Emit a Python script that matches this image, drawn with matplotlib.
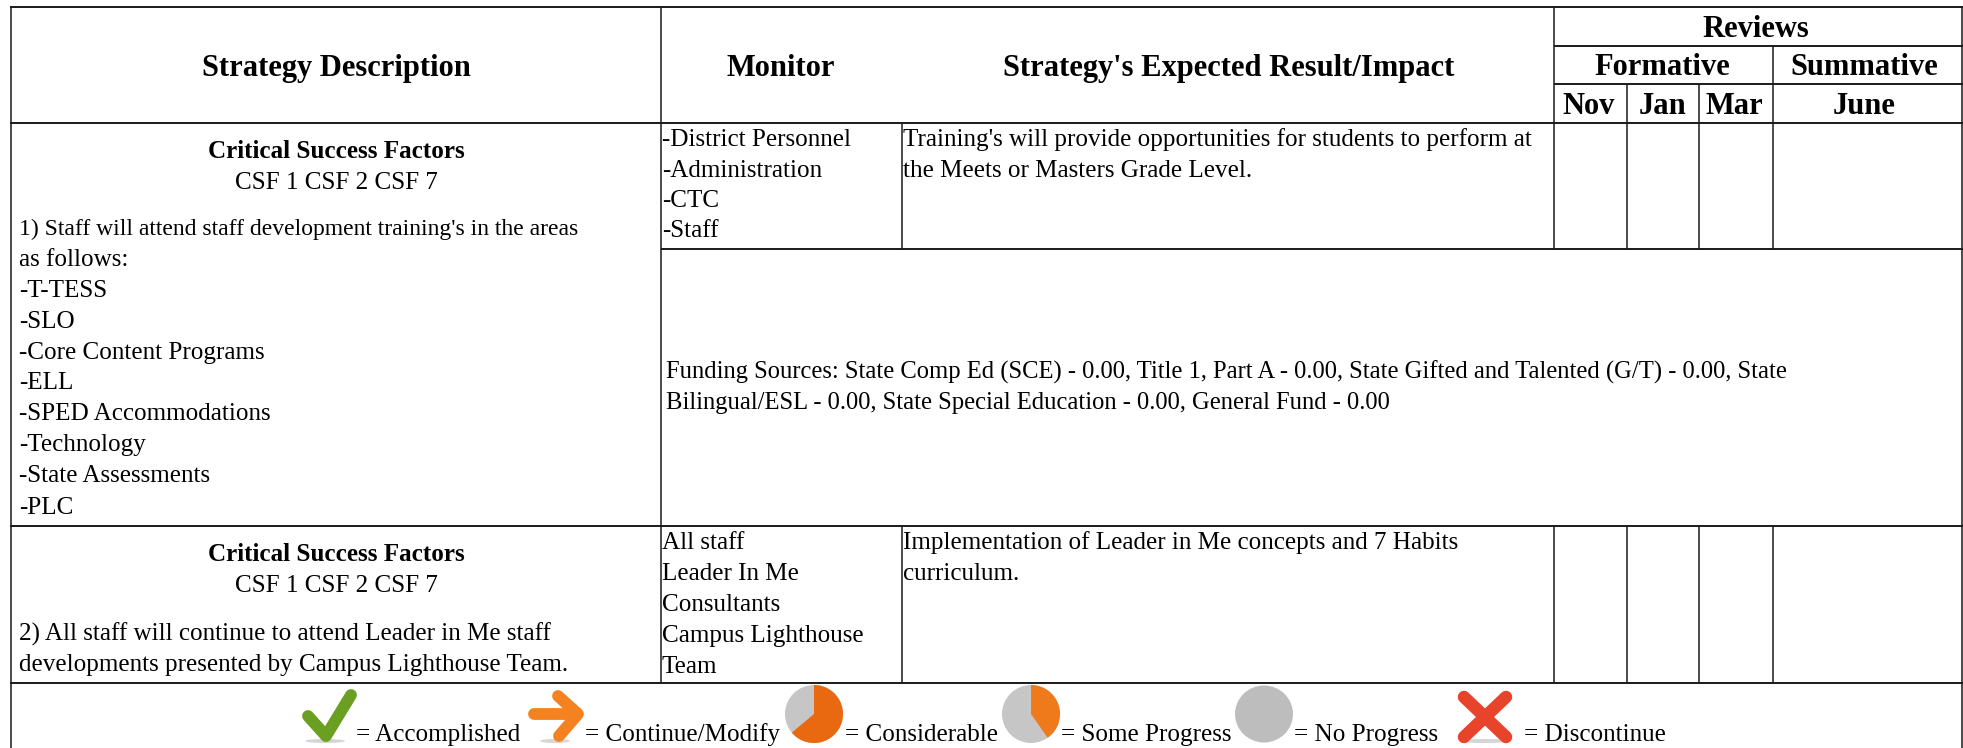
import numpy as np
import matplotlib.pyplot as plt
from matplotlib.patches import Wedge, Ellipse
from matplotlib.transforms import Affine2D

plt.rcParams['font.family'] = ['Liberation Serif', 'DejaVu Serif']

# Text of the table
header_main = ["Strategy Description", "Monitor", "Strategy's Expected Result/Impact"]
header_months = ["Nov", "Jan", "Mar", "June"]
csf_title = "Critical Success Factors"
csf_values = "CSF 1 CSF 2 CSF 7"
strategy_1_first = "1) Staff will attend staff development training's in the areas"
strategy_1 = ["as follows:", "-T-TESS", "-SLO", "-Core Content Programs", "-ELL", "-SPED Accommodations",
              "-Technology", "-State Assessments", "-PLC"]
strategy_2 = ["2) All staff will continue to attend Leader in Me staff",
              "developments presented by Campus Lighthouse Team."]
monitor_1 = ["-District Personnel", "-Administration", "-CTC", "-Staff"]
monitor_2 = ["All staff", "Leader In Me", "Consultants", "Campus Lighthouse", "Team"]
impact_1 = ["Training's will provide opportunities for students to perform at",
            "the Meets or Masters Grade Level."]
impact_2 = ["Implementation of Leader in Me concepts and 7 Habits", "curriculum."]
funding = ["Funding Sources: State Comp Ed (SCE) - 0.00, Title 1, Part A - 0.00, State Gifted and Talented (G/T) - 0.00, State",
           "Bilingual/ESL - 0.00, State Special Education - 0.00, General Fund - 0.00"]
legend_labels = ["= Accomplished", "= Continue/Modify", "= Considerable", "= Some Progress", "= No Progress", "= Discontinue"]

fig = plt.figure(figsize=(19.63, 7.48), dpi=100)
ax = fig.add_axes([0, 0, 1, 1])
ax.set_xlim(0, 1963)
ax.set_ylim(748, 0)
ax.axis('off')

BODY = 18.1
HEAD = 22
LEG = 18.1


def hline(y, x0, x1, lw=1.4):
    ax.plot([x0, x1], [y, y], color='#1a1a1a', lw=lw, solid_capstyle='butt')


def vline(x, y0, y1, lw=1.1):
    ax.plot([x, x], [y0, y1], color='#1a1a1a', lw=lw, solid_capstyle='butt')


# grid lines
hline(7, 10, 1963)
hline(46, 1554, 1963)
hline(84, 1554, 1963)
hline(123, 10, 1963)
hline(249, 661, 1963)
hline(526, 10, 1963)
hline(683, 10, 1963)
vline(11, 6, 748)
vline(1962, 6, 748)
vline(661, 7, 683)
vline(902, 123, 249)
vline(902, 526, 683)
vline(1554, 7, 249)
vline(1554, 526, 683)
vline(1773, 46, 249)
vline(1773, 526, 683)
for x in [1627, 1699]:
    vline(x, 84, 249)
    vline(x, 526, 683)


def lines(x, ys, txt, size=BODY):
    for y, t in zip(ys, txt):
        ax.text(x, y, t, fontsize=size, va='baseline', color='black')


# header
head_kw = dict(fontsize=HEAD, fontweight='bold', ha='center', va='baseline', color='black')
for x, t in zip([336, 781, 1229], header_main):
    ax.text(x, 76, t, **head_kw)
ax.text(1756, 37, "Reviews", **head_kw)
ax.text(1662, 75, "Formative", **head_kw)
ax.text(1864, 75, "Summative", **head_kw)
for x, t in zip([1589, 1663, 1734, 1864], header_months):
    ax.text(x, 114, t, **head_kw)

# first row
ax.text(336, 158, csf_title, fontsize=BODY, fontweight='bold', ha='center', va='baseline')
ax.text(336, 189, csf_values, fontsize=BODY, ha='center', va='baseline')
lines(19, [235], [strategy_1_first], size=17)
lines(19, [266, 297, 328, 359, 389, 420, 451, 482, 514], strategy_1)
lines(662, [146, 177, 207, 237], monitor_1)
lines(903, [146, 177], impact_1)
lines(666, [379, 409], funding, size=17.7)

# second row
ax.text(336, 561, csf_title, fontsize=BODY, fontweight='bold', ha='center', va='baseline')
ax.text(336, 592, csf_values, fontsize=BODY, ha='center', va='baseline')
lines(19, [641, 671], strategy_2)
lines(662, [549, 580, 611, 642, 673], monitor_2)
lines(903, [549, 580], impact_2)


# legend icons
def stroke(xs, ys, col, lw):
    ax.plot(xs, ys, color=col, lw=lw, solid_capstyle='round', solid_joinstyle='round')


def pie(cx, cy, rx, ry, start, end, col):
    tr = Affine2D().scale(rx, ry).translate(cx, cy) + ax.transData
    ax.add_patch(Ellipse((0, 0), 2, 2, facecolor='#c6c6c6', edgecolor='none', transform=tr))
    ax.add_patch(Wedge((0, 0), 1, start, end, facecolor=col, edgecolor='none', transform=tr))


for cx, w in [(325, 40), (555, 30), (1485, 50)]:
    ax.add_patch(Ellipse((cx, 741), w, 4, facecolor='#d5d5d5', edgecolor='none'))

stroke([308, 326, 351], [716, 736, 695], '#6a9f22', 8.5)
stroke([534, 577], [714, 714], '#f58220', 8.5)
stroke([558, 578, 559], [696, 714, 736], '#f58220', 8.5)
pie(814, 714, 29, 29, -90, 140, '#e8690f')
pie(1031, 714, 29, 29, -90, 55, '#ee7a1c')
ax.add_patch(Ellipse((1264, 714), 58, 57, facecolor='#bdbdbd', edgecolor='none'))
stroke([1464, 1506], [697, 737], '#e8442c', 9)
stroke([1506, 1464], [697, 737], '#e8442c', 9)

# legend text
for x, t in zip([356, 585, 845, 1061, 1294, 1524], legend_labels):
    ax.text(x, 741, t, fontsize=LEG, va='baseline', color='black')

fig.savefig('out.png', dpi=100)
